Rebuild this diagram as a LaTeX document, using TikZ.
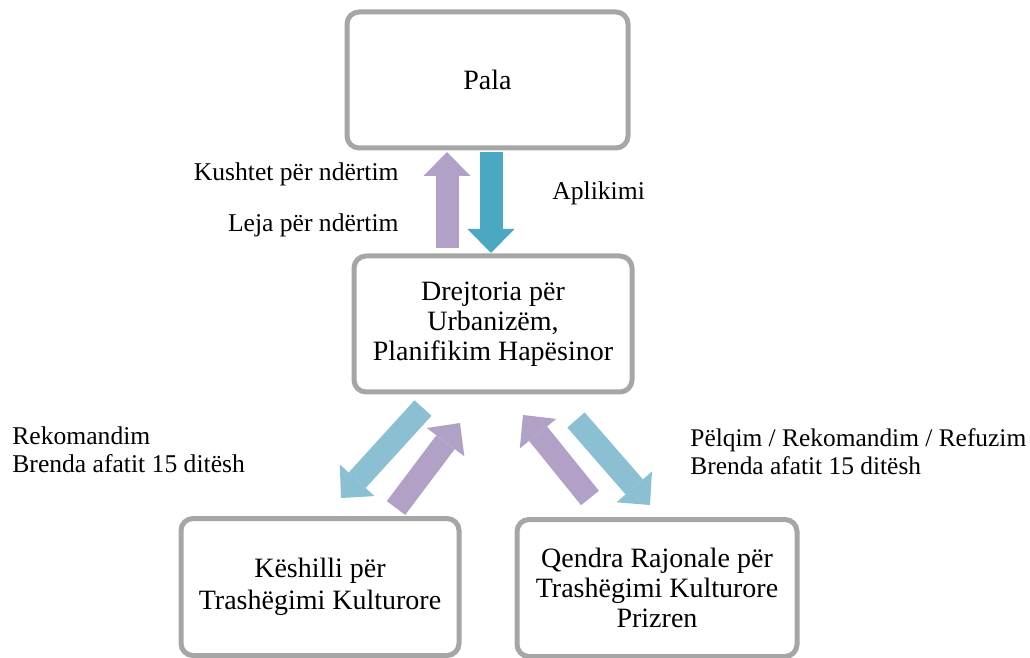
\documentclass[tikz,border=0pt]{standalone}
\usepackage{fontspec}
\setmainfont{Liberation Serif}
\usetikzlibrary{arrows.meta}
\definecolor{boxgray}{HTML}{A6A6A6}
\definecolor{lilac}{HTML}{B2A1C7}
\definecolor{deepteal}{HTML}{4BA8C2}
\definecolor{paleteal}{HTML}{8BC0D3}

\begin{document}
\begin{tikzpicture}[x=0.5pt,y=-0.5pt]
  \tikzstyle{box}=[draw=boxgray,line width=2.5pt,rounded corners=6pt,fill=white,
                   align=center,inner sep=0pt,font=\fontsize{14}{15}\selectfont]
  \tikzstyle{note}=[inner sep=0pt,align=left,font=\fontsize{12.8}{14}\selectfont]
  \tikzstyle{block}=[line width=11.5pt,-{Triangle[width=23.5pt,length=12pt,line width=0pt]}]
  \useasboundingbox (0,0) rectangle (1030,658);
\node[box,minimum width=140.5pt,minimum height=68pt] (pala) at (487.5,80) {Pala};
\node[box,minimum width=139pt,minimum height=68pt] (drejtoria) at (493,324)
     {Drejtoria për\\Urbanizëm,\\Planifikim Hapësinor};
\node[box,minimum width=139pt,minimum height=68.5pt,font=\fontsize{14}{16}\selectfont] (keshilli) at (320,587)
     {Këshilli për\\Trashëgimi Kulturore};
\node[box,minimum width=140pt,minimum height=68.5pt] (qendra) at (657,588)
     {Qendra Rajonale për\\Trashëgimi Kulturore\\Prizren};
\coordinate (leja0) at (447,248);
\coordinate (leja1) at (447,152);
\coordinate (apl0) at (491,152);
\coordinate (apl1) at (491,253);
\coordinate (rek0) at (423,408);
\coordinate (rek1) at (341,498);
\coordinate (ksh0) at (396,508);
\coordinate (ksh1) at (460,423);
\coordinate (qnd0) at (590,498);
\coordinate (qnd1) at (523,415);
\coordinate (pel0) at (576,420);
\coordinate (pel1) at (650,505);
\draw[block,lilac] (leja0) -- (leja1);
\draw[block,deepteal] (apl0) -- (apl1);
\draw[block,paleteal] (rek0) -- (rek1);
\draw[block,lilac] (ksh0) -- (ksh1);
\draw[block,lilac] (qnd0) -- (qnd1);
\draw[block,paleteal] (pel0) -- (pel1);
\node[note,anchor=base east] (kushtet) at (399,181) {Kushtet për ndërtim};
\node[note,anchor=base east] (leja) at (399,232) {Leja për ndërtim};
\node[note,anchor=base west] (aplikimi) at (552,200) {Aplikimi};
\node[note,anchor=west] (rekomandim) at (12,450) {Rekomandim\\Brenda afatit 15 ditësh};
\node[note,anchor=west,font=\fontsize{12.7}{14}\selectfont] (pelqim) at (690,452)
     {Pëlqim / Rekomandim / Refuzim\\Brenda afatit 15 ditësh};
\end{tikzpicture}
\end{document}
